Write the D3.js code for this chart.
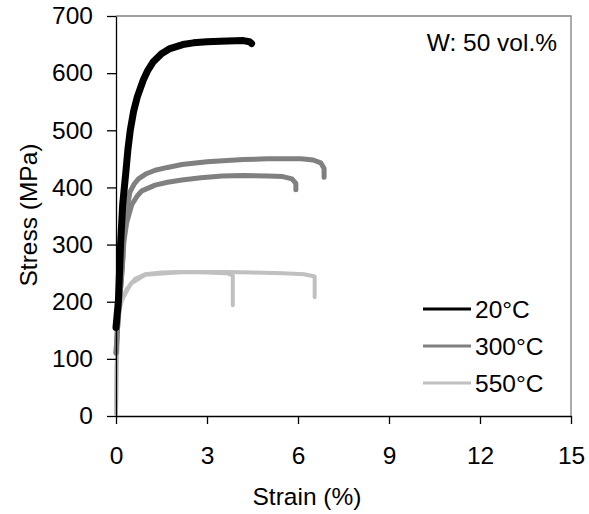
<!DOCTYPE html>
<html>
<head>
<meta charset="utf-8">
<script src="https://cdn.jsdelivr.net/npm/d3@7"></script>
<style>
  body { margin: 0; background: #fff; }
  text { font-family: "Liberation Sans", Arial, sans-serif; fill: #000; }
</style>
</head>
<body>
<div id="chart"></div>
<script>
// strain (%) / stress (MPa) pairs
var curve20 = [[0.0,155],[0.08,202],[0.15,300],[0.22,370],[0.33,430],[0.39,465],[0.47,500],[0.58,533],[0.7,558],[0.9,588],[1.05,605],[1.23,620],[1.5,634],[1.78,643],[2.2,650],[2.55,653],[3.0,655],[3.43,656],[4.2,657],[4.4,655],[4.47,652]];
var curve300a = [[0.0,110],[0.08,180],[0.15,222],[0.21,262],[0.26,315],[0.35,360],[0.46,392],[0.6,406],[0.74,415],[1.0,424],[1.29,430],[1.7,435],[2.17,440],[3.0,445],[4.2,449],[5.0,450],[6.1,450],[6.5,448],[6.75,443],[6.86,433],[6.86,418]];
var curve300b = [[0.0,110],[0.08,180],[0.15,222],[0.21,262],[0.26,305],[0.35,338],[0.52,370],[0.7,385],[0.85,394],[1.29,404],[1.7,409],[2.17,413],[2.8,417],[3.5,420],[4.2,421],[5.0,420],[5.5,419],[5.8,415],[5.93,407],[5.93,396]];
var curve550a = [[0.0,4],[0.02,85],[0.08,170],[0.15,195],[0.24,208],[0.35,222],[0.5,232],[0.63,240],[0.96,248],[1.5,251],[2.2,252],[3.0,251],[3.65,250],[3.85,246],[3.85,194]];
var curve550b = [[0.0,4],[0.02,85],[0.08,170],[0.15,195],[0.24,208],[0.5,232],[0.96,247],[2.2,252],[3.6,252],[4.5,251],[5.5,250],[6.2,248],[6.55,244],[6.55,208]];

var legendLabels = ["20°C", "300°C", "550°C"];
var legendColors = ["#000000", "#808080", "#c0c0c0"];
var xTicks = [0, 3, 6, 9, 12, 15];
var yTicks = [0, 100, 200, 300, 400, 500, 600, 700];

var width = 589, height = 514;
var margin = {top: 16, right: 18, bottom: 98, left: 116};
var w = width - margin.left - margin.right,
    h = height - margin.top - margin.bottom;

var svg = d3.select("#chart").append("svg")
    .attr("width", width)
    .attr("height", height);

var g = svg.append("g")
    .attr("transform", "translate(" + margin.left + "," + margin.top + ")");

var x = d3.scaleLinear().domain([0, 15]).range([0, w]);
var y = d3.scaleLinear().domain([0, 700]).range([h, 0]);

// top and right frame (grey)
g.append("path")
    .attr("d", "M0,0H" + w + "V" + h)
    .attr("fill", "none")
    .attr("stroke", "#808080")
    .attr("stroke-width", 1.3);

var line = d3.line().x(d => x(d[0])).y(d => y(d[1])).curve(d3.curveLinear);

function drawCurve(data, color, sw) {
  g.append("path")
      .datum(data)
      .attr("fill", "none")
      .attr("stroke", color)
      .attr("stroke-width", sw)
      .attr("stroke-linejoin", "round")
      .attr("stroke-linecap", "round")
      .attr("d", line);
}

drawCurve(curve550b, legendColors[2], 4);
drawCurve(curve550a, legendColors[2], 4);
drawCurve(curve300a, legendColors[1], 5);
drawCurve(curve300b, legendColors[1], 5);
drawCurve(curve20, legendColors[0], 7);

// axes
var xAxis = g.append("g")
    .attr("transform", "translate(0," + h + ")")
    .call(d3.axisBottom(x).tickValues(xTicks).tickSize(8).tickPadding(23).tickSizeOuter(0));
var yAxis = g.append("g")
    .call(d3.axisLeft(y).tickValues(yTicks).tickSize(9).tickPadding(14).tickSizeOuter(0));

[xAxis, yAxis].forEach(function(a) {
  a.select(".domain").attr("stroke", "#000").attr("stroke-width", 1.3);
  a.selectAll(".tick line").attr("stroke", "#000").attr("stroke-width", 1.3);
  a.selectAll(".tick text")
      .style("font-family", '"Liberation Sans", Arial, sans-serif')
      .style("font-size", "24.5px")
      .attr("fill", "#000");
});

// axis titles
svg.append("text")
    .attr("x", 307)
    .attr("y", 505)
    .attr("text-anchor", "middle")
    .style("font-size", "24.5px")
    .text("Strain (%)");

svg.append("text")
    .attr("transform", "translate(37,215) rotate(-90)")
    .attr("text-anchor", "middle")
    .style("font-size", "24.5px")
    .text("Stress (MPa)");

// annotation
svg.append("text")
    .attr("x", 557)
    .attr("y", 51)
    .attr("text-anchor", "end")
    .style("font-size", "24.5px")
    .text("W: 50 vol.%");

// legend
var legend = svg.append("g");
legendLabels.forEach(function(lab, i) {
  var ly = 309 + i * 37;
  legend.append("line")
      .attr("x1", 423).attr("x2", 471)
      .attr("y1", ly).attr("y2", ly)
      .attr("stroke", legendColors[i])
      .attr("stroke-width", 3);
  legend.append("text")
      .attr("x", 475)
      .attr("y", ly + 9)
      .style("font-size", "24.5px")
      .text(lab);
});
</script>
</body>
</html>
